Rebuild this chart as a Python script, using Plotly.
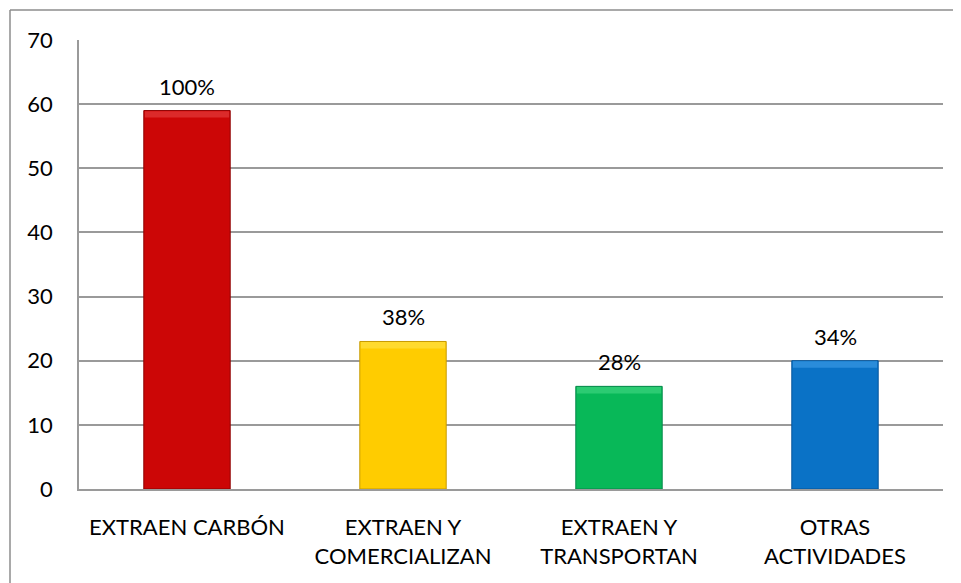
import plotly.graph_objects as go

categories = ["EXTRAEN CARBÓN", "EXTRAEN Y<br>COMERCIALIZAN", "EXTRAEN Y<br>TRANSPORTAN", "OTRAS<br>ACTIVIDADES"]
values = [59, 23, 16, 20]
percent_labels = ["100%", "38%", "28%", "34%"]
bar_colors = ["#CC0606", "#FFCC00", "#08B858", "#0A72C6"]
edge_colors = ["#8E0000", "#C79A00", "#05884A", "#05559A"]
highlight_colors = ["#DB2A2A", "#FFDA2E", "#2CCB72", "#2A8CDA"]
y_ticks = [0, 10, 20, 30, 40, 50, 60, 70]

FONT = "Lato"
OFF = 8  # default page body margin
W, H = 961 - OFF, 583 - OFF
L, R, T, B = 79 - OFF, 18, 40 - OFF, 94
BEVEL = 1.1  # highlight strip thickness in data units

fig = go.Figure()
fig.add_trace(go.Bar(
    x=categories, y=values, width=0.4,
    marker=dict(color=bar_colors, line=dict(color=edge_colors, width=1)),
    showlegend=False, hoverinfo="x+y",
))
fig.add_trace(go.Bar(
    x=categories, y=[BEVEL - 0.1] * len(values), base=[v - BEVEL for v in values], width=0.39,
    marker=dict(color=highlight_colors, line=dict(width=0)),
    showlegend=False, hoverinfo="skip",
))

for c, v, t in zip(categories, values, percent_labels):
    fig.add_annotation(x=c, y=v, text=t, showarrow=False, yanchor="bottom",
                       yshift=9, font=dict(family=FONT, size=22, color="#000000"))

pw, ph = W - L - R, H - T - B
def px_x(p): return (p - OFF - L) / pw
def px_y(p): return (H - B - (p - OFF)) / ph

# outer chart border (top and left visible)
fig.add_shape(type="line", xref="paper", yref="paper",
              x0=px_x(10), y0=px_y(10), x1=px_x(961 + 5), y1=px_y(10),
              line=dict(color="#8c8c8c", width=1.5))
fig.add_shape(type="line", xref="paper", yref="paper",
              x0=px_x(10), y0=px_y(10), x1=px_x(10), y1=px_y(583 + 5),
              line=dict(color="#8c8c8c", width=1.5))

fig.update_layout(
    width=W, height=H,
    margin=dict(l=L, r=R, t=T, b=B),
    paper_bgcolor="white", plot_bgcolor="white",
    font=dict(family=FONT, size=22, color="#000000"),
    barmode="overlay",
    bargap=0.6,
    xaxis=dict(showgrid=False, showline=True, linecolor="#9a9a9a", linewidth=1.5,
               ticks="", tickfont=dict(family=FONT, size=22), ticklabelstandoff=18,
               fixedrange=True),
    yaxis=dict(range=[0, 70], tickvals=y_ticks, showgrid=True, gridcolor="#9a9a9a",
               gridwidth=1.5, showline=True, linecolor="#9a9a9a", linewidth=1.5,
               ticks="", tickfont=dict(family=FONT, size=22), ticklabelstandoff=20,
               zeroline=False, fixedrange=True),
)

fig.write_html("out.html")
